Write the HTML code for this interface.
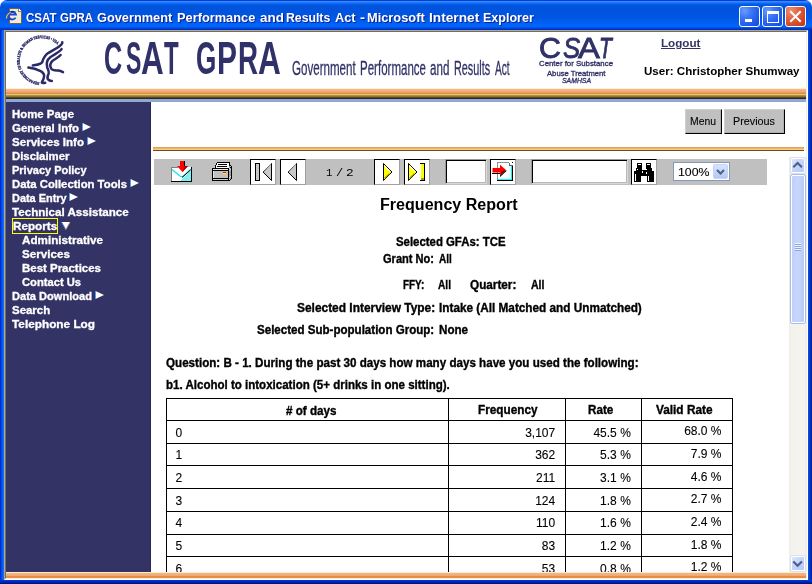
<!DOCTYPE html>
<html><head><meta charset="utf-8"><title>CSAT GPRA Government Performance and Results Act</title>
<style>
*{margin:0;padding:0;box-sizing:border-box}
html,body{width:812px;height:584px;overflow:hidden;background:#fff}
body{position:relative;font-family:"Liberation Sans",Arial,sans-serif}
#root{position:absolute;left:0;top:0;width:812px;height:584px;will-change:transform}
.a{position:absolute}
.t{position:absolute;white-space:nowrap;transform-origin:0 0;line-height:1}
svg{position:absolute;overflow:visible}
#tb{left:0;top:0;width:812px;height:30px;border-radius:7px 7px 0 0;
 background:linear-gradient(180deg,#0040d8 0px,#0040d8 1px,#3a8cff 1px,#3284fd 2px,#1470f4 3px,#0860ea 4px,#0056e0 5px,#0053dd 9px,#0055e2 17px,#005cee 21px,#0064fa 25px,#0064fa 27px,#0048dc 28px,#0036c8 29px,#0030c0 30px)}
#bl{left:0;top:30px;width:4px;height:554px;background:linear-gradient(90deg,#0028c8 0,#0028c8 1px,#0046e4 1px,#0052f0 2px,#0a66f8 3px,#1472fa 4px)}
#br{left:808px;top:30px;width:4px;height:554px;background:linear-gradient(90deg,#0054f2 0,#0046e0 1px,#0036c8 2px,#002aa8 3px,#001680 4px)}
#bb{left:0;top:580px;width:812px;height:4px;background:linear-gradient(180deg,#0036e2 0,#0030d0 1px,#0024b0 2px,#001a90 3px,#001070 4px)}
.wb{position:absolute;top:6px;width:21px;height:21px;border:1px solid #fff;border-radius:3px;
 background:radial-gradient(ellipse at 25% 20%,#6a9cff 0,#3a74f6 35%,#1c56e6 75%,#1548d8 100%)}
#wclose{background:radial-gradient(ellipse at 25% 20%,#f09070 0,#e06040 40%,#cc4020 80%,#c03818 100%)}
#client{left:4px;top:30px;width:804px;height:550px;border-top:1px solid #aca899;border-left:1px solid #aca899;border-right:1px solid #fff;border-bottom:1px solid #fff}
#client2{left:5px;top:31px;width:802px;height:548px;border-top:1px solid #716f64;border-left:1px solid #716f64;border-right:1px solid #f1efe2;border-bottom:1px solid #f1efe2}
#band{left:6px;top:88px;width:800px;height:14px;background:linear-gradient(180deg,#fff2c0 0px,#fff2c0 1px,#f0b890 1px,#f0b890 2px,#f0b088 2px,#f0b088 3px,#eea880 3px,#eea880 4px,#eb9a60 4px,#eb9a60 5px,#e88a44 5px,#e88a44 6px,#ecc860 6px,#ecc860 7px,#a89448 7px,#a89448 8px,#8a7636 8px,#8a7636 9px,#5a4820 9px,#5a4820 10px,#302810 10px,#302810 11px,#8ea8d8 11px,#8ea8d8 12px,#8ea8d8 12px,#8ea8d8 13px,#8ea8d8 13px,#8ea8d8 14px)}
#nav{left:6px;top:102px;width:145px;height:470px;background:#333366;border-right:1px solid #26265a}
#navtop{left:6px;top:101px;width:145px;height:1px;background:#8aa2cc}
#bot{left:6px;top:572px;width:800px;height:6px;background:linear-gradient(180deg,#fff0b8 0,#fff0b8 1px,#f0b48a 1px,#efb085 3px,#eca070 4px,#e88c44 4px,#e88a40 6px)}
.btn{position:absolute;background:#c0c0c0;border-top:1px solid #d0d0d0;border-left:1px solid #d0d0d0;border-right:1px solid #000;border-bottom:1px solid #000;box-shadow:inset -1px -1px 0 #b0b0b0}
#oline{left:153px;top:147px;width:651px;height:4px;background:linear-gradient(180deg,#e89c68 0,#e89c68 1px,#f0b070 1px,#f0bc70 2px,#f0d070 2px,#f0d070 3px,#6a5020 3px,#6a5020 4px)}
#tbar{left:154px;top:159px;width:613px;height:26px;background:#c0c0c0}
.tbtn{position:absolute;top:159px;width:26px;height:26px;background:#fff;border-top:1px solid #000;border-left:1px solid #000;border-right:1px solid #a0a0a0;border-bottom:1px solid #a0a0a0}
.inp{position:absolute;top:159px;height:25px;background:#fff;border-top:1px solid #9a9a9a;border-left:1px solid #9a9a9a;border-right:1px solid #d8d8d8;border-bottom:1px solid #d8d8d8;box-shadow:inset 1px 1px 0 #000,inset -1px -1px 0 #b8b8b8}
#sel{left:673px;top:162px;width:57px;height:19px;background:#fff;border:1px solid #7f9db9}
#selbtn{left:713px;top:164px;width:15px;height:15px;border-radius:2px;background:linear-gradient(180deg,#d8e4fc,#b4c8f6);border:1px solid #c4d4f8}
#sb{left:789px;top:157px;width:17px;height:415px;background:linear-gradient(90deg,#eeede5 0,#f3f2ec 2px,#f5f4ef 14px,#f0efe8 17px)}
.sbb{position:absolute;left:791px;width:14px;height:15px;border-radius:2px;border:1px solid #fff;background:linear-gradient(135deg,#dbe5fd 0,#c3d3fb 50%,#b6c9f7 100%);box-shadow:0 0 0 1px #d8e0f4}
#thumb{left:791px;top:175px;width:14px;height:148px;border-radius:2px;border:1px solid #fff;background:linear-gradient(90deg,#c0d0fa 0,#c8d6fb 50%,#bacbf8 100%);box-shadow:0 0 0 1px #a8bcec}
.hl{position:absolute;height:1px;background:#000}
.vl{position:absolute;width:1px;background:#000}
#ybox{left:12px;top:218px;width:46px;height:16px;border:1px solid #ffff00}
</style></head>
<body>
<div id="root">
<div class="a" id="tb"></div>
<div class="a" id="bl"></div>
<div class="a" id="br"></div>
<div class="a" id="bb"></div>
<div class="a" id="client"></div>
<div class="a" id="client2"></div>
<!-- IE icon -->
<svg style="left:0;top:0" width="30" height="30" viewBox="0 0 30 30" shape-rendering="crispEdges">
 <path d="M9.5 8.5h9l3 3v12h-12z" fill="#efecdc" stroke="#6f6350" stroke-width="1"/>
 <path d="M18.5 8.5v3h3" fill="#fff" stroke="#8a7c60" stroke-width="1"/>
</svg>
<svg style="left:0;top:0" width="30" height="30" viewBox="0 0 30 30">
 <path d="M15.6 17.6A3.7 3.7 0 1 1 15.9 14.6H9.2" fill="none" stroke="#1d49d8" stroke-width="1.9"/>
 <path d="M9.6 12.6A3.7 3.7 0 0 1 15.4 12.8" fill="none" stroke="#0c2a9a" stroke-width="1.2"/>
 <path d="M6.6 18.6C6.2 16.4 8.2 13.6 10.6 12.2" fill="none" stroke="#e2b24a" stroke-width="1.2"/>
 <path d="M7.2 19.2C8.4 19.8 10.2 19.2 11 18.6" fill="none" stroke="#2a3aa8" stroke-width="1.1"/>
 <path d="M14.6 12.2l1.6-1" stroke="#34c8f0" stroke-width="1"/>
</svg>
<div class="wb" style="left:739px"></div>
<div class="wb" style="left:762px"></div>
<div class="wb" id="wclose" style="left:785px"></div>
<svg style="left:739px;top:6px" width="21" height="21" shape-rendering="crispEdges"><rect x="6" y="13" width="7" height="3" fill="#fff"/></svg>
<svg style="left:762px;top:6px" width="21" height="21" shape-rendering="crispEdges"><rect x="5" y="5" width="11" height="11" fill="none" stroke="#fff" stroke-width="1" transform="translate(0.5 0.5)"/><rect x="5" y="5" width="11" height="3" fill="#fff"/></svg>
<svg style="left:785px;top:6px" width="21" height="21"><path d="M6 6L15 15M15 6L6 15" stroke="#fff" stroke-width="2" stroke-linecap="square"/></svg>

<!-- HHS logo -->
<svg style="left:0;top:32px" width="80" height="56" viewBox="0 32 80 56">
 <defs><path id="ring" d="M39.5 82.4 A22.2 22.2 0 1 1 58.2 45.2"/></defs>
 <text font-family="Liberation Serif,serif" font-size="4" font-weight="bold" fill="#2a2a66" stroke="#2a2a66" stroke-width="0.35" textLength="84" lengthAdjust="spacingAndGlyphs"><textPath href="#ring">DEPARTMENT OF HEALTH &amp; HUMAN SERVICES • USA</textPath></text>
 <g fill="none" stroke="#2a2a68" stroke-width="2.5" stroke-linecap="round" stroke-linejoin="round">
  <path d="M62.3 42.3C62.5 45.5 55 49 48.5 52.8C44.5 55.5 43.3 58.5 42.3 62C41.5 64.3 37 64.8 32.8 65.4"/>
  <path d="M61.6 49C60.2 51.8 54.5 54.2 50.3 57.2C46.7 60 46.2 63.8 47.2 67.3C48 69.8 49.2 71.2 48.7 73.4C47.8 75.5 46.6 77.5 48 79.4C49 80.6 50.5 81 51.8 81"/>
  <path d="M60.6 55C58.3 57.6 54.3 59.2 52.2 61.2C50.2 63.3 49.8 66.2 51.2 68.6C52.6 70.6 55.2 70.4 58.2 70.6C60.2 70.9 61.8 71.6 63 72.2"/>
  <path d="M28.4 67.6C32.2 68 36.7 69.2 40.7 71.2C44.2 73.2 44.6 76.2 43.6 78.6C43 80.2 42 81.5 41.8 82.6C43 83.1 44.2 83.1 45.2 82.8"/>
 </g>
</svg>

<div class="a" id="band"></div>
<div class="a" id="nav"></div>
<div class="a" id="ybox"></div>
<!-- nav arrows -->
<svg style="left:0;top:0" width="160" height="320">
 <defs>
  <g id="ra"><path d="M0.5 0L9 4L0.5 8z" fill="#fff"/><rect x="0" y="0.3" width="1" height="7.4" fill="#4a9ff2"/></g>
 </defs>
 <use href="#ra" x="82" y="123"/>
 <use href="#ra" x="87" y="137"/>
 <use href="#ra" x="130" y="179"/>
 <use href="#ra" x="69" y="193"/>
 <use href="#ra" x="95" y="291"/>
 <path d="M61.5 222H70L65.8 229.6z" fill="#fff"/>
 <path d="M61.5 222L65.8 229.6" stroke="#3a8ef0" stroke-width="1"/>
 <path d="M70 222L65.8 229.6" stroke="#f0a060" stroke-width="0.8"/>
</svg>

<div class="btn" style="left:685px;top:109px;width:37px;height:25px"></div>
<div class="btn" style="left:724px;top:109px;width:61px;height:25px"></div>
<div class="a" id="oline"></div>

<div class="a" id="tbar"></div>
<!-- export icon -->
<svg style="left:168px;top:158px" width="28" height="28" viewBox="168 158 28 28" shape-rendering="crispEdges">
 <rect x="171" y="167" width="21" height="15" fill="#fff"/>
 <path d="M181 181L191 170V181z" fill="#7ff0f0"/>
 <rect x="171" y="167" width="1" height="14" fill="#808080"/>
 <rect x="171" y="167" width="7" height="1" fill="#808080"/>
 <rect x="171" y="181" width="21" height="1" fill="#000"/>
 <rect x="191" y="167" width="1" height="15" fill="#000"/>
 <path d="M172 169.5L180.5 176.5H183L191 169" fill="none" stroke="#00e8f0" stroke-width="1.2" shape-rendering="auto"/>
 <path d="M182 177.5L190.5 170" fill="none" stroke="#000" stroke-width="1" shape-rendering="auto"/>
 <rect x="180" y="161" width="4" height="6" fill="#f00"/>
 <rect x="184" y="161" width="1" height="6" fill="#000"/>
 <path d="M177 166H188L182.5 172z" fill="#f00" shape-rendering="auto"/>
 <path d="M185 166H188L182.5 172z" fill="#a00000" shape-rendering="auto"/>
</svg>
<!-- printer -->
<svg style="left:208px;top:158px" width="28" height="28" viewBox="208 158 28 28" shape-rendering="crispEdges">
 <rect x="217" y="162" width="13" height="1" fill="#000"/>
 <rect x="216" y="163" width="1" height="2" fill="#000"/>
 <rect x="215" y="165" width="1" height="3" fill="#000"/>
 <rect x="217" y="163" width="12" height="5" fill="#fff"/>
 <rect x="216" y="165" width="1" height="3" fill="#fff"/>
 <rect x="229" y="163" width="1" height="3" fill="#000"/>
 <rect x="218" y="164" width="9" height="1" fill="#000"/>
 <rect x="217" y="166" width="10" height="1" fill="#000"/>
 <rect x="212" y="168" width="17" height="1" fill="#000"/>
 <rect x="212" y="169" width="1" height="12" fill="#000"/>
 <rect x="213" y="169" width="15" height="1" fill="#e8e8e8"/>
 <rect x="212" y="170" width="17" height="1" fill="#000"/>
 <rect x="213" y="171" width="1" height="7" fill="#e8e8e8"/>
 <rect x="214" y="171" width="14" height="7" fill="#c0c0c0"/>
 <rect x="212" y="178" width="17" height="1" fill="#000"/>
 <rect x="213" y="179" width="15" height="1" fill="#d0d0d0"/>
 <rect x="213" y="180" width="16" height="1" fill="#000"/>
 <rect x="228" y="169" width="1" height="12" fill="#000"/>
 <rect x="229" y="167" width="2" height="13" fill="#a0a0a0"/>
 <rect x="229" y="168" width="1" height="1" fill="#e0e0e0"/>
 <rect x="230" y="167" width="1" height="1" fill="#000"/>
 <rect x="229" y="170" width="1" height="1" fill="#e0e0e0"/>
 <rect x="230" y="169" width="1" height="1" fill="#e0e0e0"/>
 <rect x="229" y="177" width="1" height="1" fill="#e0e0e0"/>
 <rect x="230" y="176" width="1" height="1" fill="#e0e0e0"/>
 <rect x="229" y="179" width="1" height="1" fill="#e0e0e0"/>
 <rect x="231" y="166" width="1" height="13" fill="#000"/>
 <rect x="230" y="179" width="1" height="1" fill="#000"/>
 <rect x="229" y="180" width="1" height="1" fill="#000"/>
 <rect x="230" y="165" width="1" height="1" fill="#000"/>
 <rect x="229" y="166" width="1" height="1" fill="#a0a0a0"/>
 <rect x="223" y="172" width="3" height="1" fill="#f00"/>
 <rect x="223" y="173" width="3" height="1" fill="#ff0"/>
</svg>
<div class="tbtn" style="left:250px"></div>
<div class="tbtn" style="left:280px"></div>
<div class="tbtn" style="left:374px"></div>
<div class="tbtn" style="left:404px"></div>
<svg style="left:0;top:0" width="440" height="190" shape-rendering="crispEdges">
 <!-- first -->
 <rect x="255.5" y="163.5" width="4" height="17" fill="#c8c8c8" stroke="#000" stroke-width="1"/>
 <path d="M271.5 163.5V180.5L263 172z" fill="#c8c8c8" stroke="#000" stroke-width="1" shape-rendering="auto"/>
 <path d="M271 164L263.5 172" stroke="#909090" stroke-width="1" shape-rendering="auto"/>
 <!-- prev -->
 <path d="M296.5 163.5V180.5L288 172z" fill="#c8c8c8" stroke="#000" stroke-width="1" shape-rendering="auto"/>
 <path d="M296 164L288.5 172" stroke="#909090" stroke-width="1" shape-rendering="auto"/>
 <!-- next -->
 <path d="M383.5 163.5V180.5L392 172z" fill="#ffff00" stroke="#000" stroke-width="1" shape-rendering="auto"/>
 <path d="M384.6 165.8L390.2 171.6" stroke="#fff" stroke-width="1.1" shape-rendering="auto"/>
 <path d="M384.6 178.2L389.4 173.6" stroke="#a0a000" stroke-width="1.3" shape-rendering="auto"/>
 <!-- last -->
 <path d="M408.5 163.5V180.5L417 172z" fill="#ffff00" stroke="#000" stroke-width="1" shape-rendering="auto"/>
 <path d="M409.6 165.8L415.2 171.6" stroke="#fff" stroke-width="1.1" shape-rendering="auto"/>
 <path d="M409.6 178.2L414.4 173.6" stroke="#a0a000" stroke-width="1.3" shape-rendering="auto"/>
 <rect x="420" y="163" width="5" height="18" fill="#000"/>
 <rect x="420" y="164" width="4" height="16" fill="#ffff00"/>
 <rect x="420" y="164" width="1" height="16" fill="#fff"/>
 <rect x="421" y="178" width="3" height="2" fill="#a0a000"/>
</svg>
<div class="inp" style="left:445px;width:42px"></div>
<div class="tbtn" style="left:490px"></div>
<svg style="left:488px;top:157px" width="30" height="30" viewBox="488 157 30 30" shape-rendering="crispEdges">
 <rect x="497" y="162" width="16" height="19" fill="#000"/>
 <rect x="497" y="162" width="14" height="1" fill="#909090"/>
 <rect x="497" y="162" width="1" height="18" fill="#909090"/>
 <rect x="498" y="163" width="14" height="17" fill="#00ffff"/>
 <rect x="498" y="163" width="13" height="16" fill="#fff"/>
 <path d="M509 162h2l2 2v2h-4z" fill="#fff"/>
 <path d="M509.5 162.5v3h3.5" fill="none" stroke="#606060" stroke-width="1"/>
 <path d="M492.5 168H500V164.7L506 170L500 175.5V172.5H492.5z" fill="#f00" shape-rendering="auto"/>
 <path d="M500 175.5L506 170L506.5 171L500 177z" fill="#000" shape-rendering="auto"/>
 <path d="M492 172.5H500V173.5H492z" fill="#000"/>
 <path d="M501 172L505 170V171L501 174.5z" fill="#900000" shape-rendering="auto"/>
</svg>
<div class="inp" style="left:531px;width:97px"></div>
<div class="tbtn" style="left:631px"></div>
<svg style="left:628px;top:157px" width="32" height="30" viewBox="628 157 32 30" shape-rendering="crispEdges">
 <rect x="637" y="163" width="5" height="6" fill="#000"/>
 <rect x="646" y="163" width="5" height="6" fill="#000"/>
 <rect x="638" y="164" width="3" height="1" fill="#fff"/>
 <rect x="647" y="164" width="3" height="1" fill="#fff"/>
 <rect x="636" y="168" width="6" height="3" fill="#000"/>
 <rect x="646" y="168" width="6" height="3" fill="#000"/>
 <rect x="634" y="171" width="7" height="11" fill="#000"/>
 <rect x="647" y="171" width="7" height="11" fill="#000"/>
 <rect x="641" y="170" width="6" height="6" fill="#000"/>
 <rect x="635" y="174" width="1" height="7" fill="#fff"/>
 <rect x="648" y="176" width="1" height="5" fill="#fff"/>
 <rect x="637" y="169" width="1" height="1" fill="#fff"/>
 <rect x="646" y="169" width="1" height="1" fill="#fff"/>
 <rect x="642" y="171" width="1" height="2" fill="#fff"/>
 <rect x="646" y="172" width="1" height="2" fill="#fff"/>
</svg>
<div class="a" id="sel"></div>
<div class="a" id="selbtn"></div>
<svg style="left:713px;top:164px" width="15" height="15"><path d="M4 6L7.5 9.5L11 6" fill="none" stroke="#4d6185" stroke-width="2"/></svg>

<!-- scrollbar -->
<div class="a" id="sb"></div>
<div class="sbb" style="top:158px"></div>
<div class="a" id="thumb"></div>
<div class="sbb" style="top:556px"></div>
<svg style="left:791px;top:158px" width="14" height="15"><path d="M2.3 9.3L6.6 5L10.9 9.3" fill="none" stroke="#4d6185" stroke-width="2.1"/></svg>
<svg style="left:791px;top:556px" width="14" height="15"><path d="M2.3 5.5L6.6 9.8L10.9 5.5" fill="none" stroke="#4d6185" stroke-width="2.1"/></svg>
<svg style="left:791px;top:175px" width="14" height="148" shape-rendering="crispEdges">
 <rect x="4" y="68" width="6" height="1" fill="#eef4fe"/><rect x="4" y="69" width="6" height="1" fill="#8ca6de"/>
 <rect x="4" y="70" width="6" height="1" fill="#eef4fe"/><rect x="4" y="71" width="6" height="1" fill="#8ca6de"/>
 <rect x="4" y="72" width="6" height="1" fill="#eef4fe"/><rect x="4" y="73" width="6" height="1" fill="#8ca6de"/>
 <rect x="4" y="74" width="6" height="1" fill="#eef4fe"/><rect x="4" y="75" width="6" height="1" fill="#8ca6de"/>
</svg>

<!-- table -->
<div class="hl" style="left:166px;top:398px;width:567px"></div>
<div class="hl" style="left:166px;top:420px;width:567px"></div>
<div class="hl" style="left:166px;top:443px;width:567px"></div>
<div class="hl" style="left:166px;top:465px;width:567px"></div>
<div class="hl" style="left:166px;top:488px;width:567px"></div>
<div class="hl" style="left:166px;top:511px;width:567px"></div>
<div class="hl" style="left:166px;top:534px;width:567px"></div>
<div class="hl" style="left:166px;top:556px;width:567px"></div>
<div class="vl" style="left:166px;top:398px;height:174px"></div>
<div class="vl" style="left:448px;top:398px;height:174px"></div>
<div class="vl" style="left:565px;top:398px;height:174px"></div>
<div class="vl" style="left:641px;top:398px;height:174px"></div>
<div class="vl" style="left:732px;top:398px;height:174px"></div>

<div class="t" style="left:25.60px;top:11.00px;font:normal bold 13.5px/1 'Liberation Sans',Arial,sans-serif;color:#fff;transform:scaleX(0.8503);text-shadow:1px 1px 0 #0a1e8a;">CSAT</div>
<div class="t" style="left:60.30px;top:11.00px;font:normal bold 13.5px/1 'Liberation Sans',Arial,sans-serif;color:#fff;transform:scaleX(0.8458);text-shadow:1px 1px 0 #0a1e8a;">GPRA</div>
<div class="t" style="left:97.40px;top:11.00px;font:normal bold 13.5px/1 'Liberation Sans',Arial,sans-serif;color:#fff;transform:scaleX(0.9468);text-shadow:1px 1px 0 #0a1e8a;">Government</div>
<div class="t" style="left:176.70px;top:11.00px;font:normal bold 13.5px/1 'Liberation Sans',Arial,sans-serif;color:#fff;transform:scaleX(0.9486);text-shadow:1px 1px 0 #0a1e8a;">Performance</div>
<div class="t" style="left:259.50px;top:11.00px;font:normal bold 13.5px/1 'Liberation Sans',Arial,sans-serif;color:#fff;transform:scaleX(0.9952);text-shadow:1px 1px 0 #0a1e8a;">and</div>
<div class="t" style="left:286.40px;top:11.00px;font:normal bold 13.5px/1 'Liberation Sans',Arial,sans-serif;color:#fff;transform:scaleX(0.9061);text-shadow:1px 1px 0 #0a1e8a;">Results</div>
<div class="t" style="left:334.50px;top:11.00px;font:normal bold 13.5px/1 'Liberation Sans',Arial,sans-serif;color:#fff;transform:scaleX(0.9464);text-shadow:1px 1px 0 #0a1e8a;">Act</div>
<div class="t" style="left:359.70px;top:11.00px;font:normal bold 13.5px/1 'Liberation Sans',Arial,sans-serif;color:#fff;transform:scaleX(1.1111);text-shadow:1px 1px 0 #0a1e8a;">-</div>
<div class="t" style="left:367.40px;top:11.00px;font:normal bold 13.5px/1 'Liberation Sans',Arial,sans-serif;color:#fff;transform:scaleX(0.9498);text-shadow:1px 1px 0 #0a1e8a;">Microsoft</div>
<div class="t" style="left:429.30px;top:11.00px;font:normal bold 13.5px/1 'Liberation Sans',Arial,sans-serif;color:#fff;transform:scaleX(1.0138);text-shadow:1px 1px 0 #0a1e8a;">Internet</div>
<div class="t" style="left:483.30px;top:11.00px;font:normal bold 13.5px/1 'Liberation Sans',Arial,sans-serif;color:#fff;transform:scaleX(0.9273);text-shadow:1px 1px 0 #0a1e8a;">Explorer</div>
<div class="t" style="left:103.93px;top:34.00px;font:normal bold 47px/1 'Liberation Sans',Arial,sans-serif;color:#313169;transform:scaleX(0.5355);">C</div>
<div class="t" style="left:125.51px;top:34.00px;font:normal bold 47px/1 'Liberation Sans',Arial,sans-serif;color:#313169;transform:scaleX(0.4897);">S</div>
<div class="t" style="left:140.73px;top:34.00px;font:normal bold 47px/1 'Liberation Sans',Arial,sans-serif;color:#313169;transform:scaleX(0.6688);">A</div>
<div class="t" style="left:163.50px;top:34.00px;font:normal bold 47px/1 'Liberation Sans',Arial,sans-serif;color:#313169;transform:scaleX(0.5107);">T</div>
<div class="t" style="left:195.69px;top:34.00px;font:normal bold 47px/1 'Liberation Sans',Arial,sans-serif;color:#313169;transform:scaleX(0.5562);">G</div>
<div class="t" style="left:217.09px;top:34.00px;font:normal bold 47px/1 'Liberation Sans',Arial,sans-serif;color:#313169;transform:scaleX(0.6370);">P</div>
<div class="t" style="left:237.53px;top:34.00px;font:normal bold 47px/1 'Liberation Sans',Arial,sans-serif;color:#313169;transform:scaleX(0.5900);">R</div>
<div class="t" style="left:258.33px;top:34.00px;font:normal bold 47px/1 'Liberation Sans',Arial,sans-serif;color:#313169;transform:scaleX(0.6719);">A</div>
<div class="t" style="left:291.52px;top:58.00px;font:normal normal 20px/1 'Liberation Sans',Arial,sans-serif;color:#313169;-webkit-text-stroke:0.3px #313169;transform:scaleX(0.5789);">Government</div>
<div class="t" style="left:359.82px;top:58.00px;font:normal normal 20px/1 'Liberation Sans',Arial,sans-serif;color:#313169;-webkit-text-stroke:0.3px #313169;transform:scaleX(0.5761);">Performance</div>
<div class="t" style="left:430.42px;top:58.00px;font:normal normal 20px/1 'Liberation Sans',Arial,sans-serif;color:#313169;-webkit-text-stroke:0.3px #313169;transform:scaleX(0.5806);">and</div>
<div class="t" style="left:453.96px;top:58.00px;font:normal normal 20px/1 'Liberation Sans',Arial,sans-serif;color:#313169;-webkit-text-stroke:0.3px #313169;transform:scaleX(0.5415);">Results</div>
<div class="t" style="left:494.50px;top:58.00px;font:normal normal 20px/1 'Liberation Sans',Arial,sans-serif;color:#313169;-webkit-text-stroke:0.3px #313169;transform:scaleX(0.5069);">Act</div>
<div class="t" style="left:538.99px;top:33.00px;font:normal normal 30px/1 'Liberation Sans',Arial,sans-serif;color:#313169;-webkit-text-stroke:0.9px #313169;transform:scaleX(1.0100);">C</div>
<div class="t" style="left:563.30px;top:33.00px;font:italic normal 30px/1 'Liberation Sans',Arial,sans-serif;color:#313169;-webkit-text-stroke:0.9px #313169;transform:scaleX(0.8550);">S</div>
<div class="t" style="left:578.00px;top:33.00px;font:normal normal 30px/1 'Liberation Sans',Arial,sans-serif;color:#313169;-webkit-text-stroke:0.9px #313169;transform:scaleX(1.0900);">A</div>
<div class="t" style="left:599.20px;top:33.00px;font:italic normal 30px/1 'Liberation Sans',Arial,sans-serif;color:#313169;-webkit-text-stroke:0.9px #313169;transform:scaleX(0.7000);">T</div>
<div class="t" style="left:539.00px;top:60.00px;font:normal normal 8px/1 'Liberation Sans',Arial,sans-serif;color:#313169;transform:scaleX(0.9787);-webkit-text-stroke:0.35px #313169;">Center for Substance</div>
<div class="t" style="left:547.00px;top:70.00px;font:normal normal 8px/1 'Liberation Sans',Arial,sans-serif;color:#313169;transform:scaleX(0.9602);-webkit-text-stroke:0.35px #313169;">Abuse Treatment</div>
<div class="t" style="left:562.00px;top:78.00px;font:italic normal 6.5px/1 'Liberation Sans',Arial,sans-serif;color:#313169;transform:scaleX(1.0563);-webkit-text-stroke:0.3px #313169;">SAMHSA</div>
<div class="t" style="left:660.50px;top:39.00px;font:normal bold 10px/1 'Liberation Sans',Arial,sans-serif;color:#333366;transform:scaleX(1.1661);text-decoration:underline;">Logout</div>
<div class="t" style="left:643.50px;top:66.00px;font:normal bold 11.5px/1 'Liberation Sans',Arial,sans-serif;color:#000;transform:scaleX(1.0055);">User: Christopher Shumway</div>
<div class="t" style="left:12.00px;top:109.00px;font:normal bold 10.6px/1 'Liberation Sans',Arial,sans-serif;color:#fff;transform:scaleX(1.0762);-webkit-text-stroke:0.3px #fff;">Home Page</div>
<div class="t" style="left:12.00px;top:123.00px;font:normal bold 10.6px/1 'Liberation Sans',Arial,sans-serif;color:#fff;transform:scaleX(1.0839);-webkit-text-stroke:0.3px #fff;">General Info</div>
<div class="t" style="left:12.00px;top:137.00px;font:normal bold 10.6px/1 'Liberation Sans',Arial,sans-serif;color:#fff;transform:scaleX(1.0917);-webkit-text-stroke:0.3px #fff;">Services Info</div>
<div class="t" style="left:12.00px;top:151.00px;font:normal bold 10.6px/1 'Liberation Sans',Arial,sans-serif;color:#fff;transform:scaleX(1.0710);-webkit-text-stroke:0.3px #fff;">Disclaimer</div>
<div class="t" style="left:12.00px;top:165.00px;font:normal bold 10.6px/1 'Liberation Sans',Arial,sans-serif;color:#fff;transform:scaleX(1.0381);-webkit-text-stroke:0.3px #fff;">Privacy Policy</div>
<div class="t" style="left:12.00px;top:179.00px;font:normal bold 10.6px/1 'Liberation Sans',Arial,sans-serif;color:#fff;transform:scaleX(1.0696);-webkit-text-stroke:0.3px #fff;">Data Collection Tools</div>
<div class="t" style="left:12.00px;top:193.00px;font:normal bold 10.6px/1 'Liberation Sans',Arial,sans-serif;color:#fff;transform:scaleX(1.0324);-webkit-text-stroke:0.3px #fff;">Data Entry</div>
<div class="t" style="left:12.00px;top:207.00px;font:normal bold 10.6px/1 'Liberation Sans',Arial,sans-serif;color:#fff;transform:scaleX(1.0950);-webkit-text-stroke:0.3px #fff;">Technical Assistance</div>
<div class="t" style="left:13.00px;top:221.00px;font:normal bold 10.6px/1 'Liberation Sans',Arial,sans-serif;color:#fff;transform:scaleX(1.1041);-webkit-text-stroke:0.3px #fff;">Reports</div>
<div class="t" style="left:22.00px;top:235.00px;font:normal bold 10.6px/1 'Liberation Sans',Arial,sans-serif;color:#fff;transform:scaleX(1.1006);-webkit-text-stroke:0.3px #fff;">Administrative</div>
<div class="t" style="left:22.00px;top:249.00px;font:normal bold 10.6px/1 'Liberation Sans',Arial,sans-serif;color:#fff;transform:scaleX(1.0988);-webkit-text-stroke:0.3px #fff;">Services</div>
<div class="t" style="left:22.00px;top:263.00px;font:normal bold 10.6px/1 'Liberation Sans',Arial,sans-serif;color:#fff;transform:scaleX(1.0817);-webkit-text-stroke:0.3px #fff;">Best Practices</div>
<div class="t" style="left:22.00px;top:277.00px;font:normal bold 10.6px/1 'Liberation Sans',Arial,sans-serif;color:#fff;transform:scaleX(1.0550);-webkit-text-stroke:0.3px #fff;">Contact Us</div>
<div class="t" style="left:12.00px;top:291.00px;font:normal bold 10.6px/1 'Liberation Sans',Arial,sans-serif;color:#fff;transform:scaleX(1.0442);-webkit-text-stroke:0.3px #fff;">Data Download</div>
<div class="t" style="left:12.00px;top:305.00px;font:normal bold 10.6px/1 'Liberation Sans',Arial,sans-serif;color:#fff;transform:scaleX(1.0808);-webkit-text-stroke:0.3px #fff;">Search</div>
<div class="t" style="left:12.00px;top:319.00px;font:normal bold 10.6px/1 'Liberation Sans',Arial,sans-serif;color:#fff;transform:scaleX(1.1134);-webkit-text-stroke:0.3px #fff;">Telephone Log</div>
<div class="t" style="left:689.50px;top:116.00px;font:normal normal 11px/1 'Liberation Sans',Arial,sans-serif;color:#000;transform:scaleX(0.9444);-webkit-text-stroke:0.1px #000;">Menu</div>
<div class="t" style="left:732.50px;top:116.00px;font:normal normal 11px/1 'Liberation Sans',Arial,sans-serif;color:#000;transform:scaleX(0.9814);-webkit-text-stroke:0.1px #000;">Previous</div>
<div class="t" style="left:325.80px;top:168.00px;font:normal normal 11.8px/1 'Liberation Mono',monospace;color:#000;transform:scaleX(0.9000);">1</div>
<div class="t" style="left:335.68px;top:168.00px;font:normal normal 11.8px/1 'Liberation Mono',monospace;color:#000;transform:scaleX(1.0200);">/</div>
<div class="t" style="left:345.62px;top:168.00px;font:normal normal 11.8px/1 'Liberation Mono',monospace;color:#000;transform:scaleX(1.0800);">2</div>
<div class="t" style="left:678.00px;top:167.00px;font:normal normal 11.5px/1 'Liberation Sans',Arial,sans-serif;color:#000;transform:scaleX(1.0706);-webkit-text-stroke:0.1px #000;">100%</div>
<div class="t" style="left:379.50px;top:197.00px;font:normal bold 16px/1 'Liberation Sans',Arial,sans-serif;color:#000;transform:scaleX(1.0042);">Frequency Report</div>
<div class="t" style="left:395.50px;top:236.00px;font:normal bold 12px/1 'Liberation Sans',Arial,sans-serif;color:#000;transform:scaleX(0.9491);-webkit-text-stroke:0.35px #000;">Selected GFAs: TCE</div>
<div class="t" style="left:383.00px;top:253.00px;font:normal bold 12px/1 'Liberation Sans',Arial,sans-serif;color:#000;transform:scaleX(0.9215);-webkit-text-stroke:0.35px #000;">Grant No:</div>
<div class="t" style="left:439.00px;top:253.00px;font:normal bold 12px/1 'Liberation Sans',Arial,sans-serif;color:#000;transform:scaleX(0.8342);-webkit-text-stroke:0.35px #000;">All</div>
<div class="t" style="left:402.80px;top:279.00px;font:normal bold 12px/1 'Liberation Sans',Arial,sans-serif;color:#000;transform:scaleX(0.8262);-webkit-text-stroke:0.35px #000;">FFY:</div>
<div class="t" style="left:438.00px;top:279.00px;font:normal bold 12px/1 'Liberation Sans',Arial,sans-serif;color:#000;transform:scaleX(0.8473);-webkit-text-stroke:0.35px #000;">All</div>
<div class="t" style="left:470.00px;top:279.00px;font:normal bold 12px/1 'Liberation Sans',Arial,sans-serif;color:#000;transform:scaleX(0.9780);-webkit-text-stroke:0.35px #000;">Quarter:</div>
<div class="t" style="left:530.70px;top:279.00px;font:normal bold 12px/1 'Liberation Sans',Arial,sans-serif;color:#000;transform:scaleX(0.8798);-webkit-text-stroke:0.35px #000;">All</div>
<div class="t" style="left:296.50px;top:302.00px;font:normal bold 12px/1 'Liberation Sans',Arial,sans-serif;color:#000;transform:scaleX(0.9930);-webkit-text-stroke:0.35px #000;">Selected Interview Type:</div>
<div class="t" style="left:439.00px;top:302.00px;font:normal bold 12px/1 'Liberation Sans',Arial,sans-serif;color:#000;transform:scaleX(0.9811);-webkit-text-stroke:0.35px #000;">Intake (All Matched and Unmatched)</div>
<div class="t" style="left:257.00px;top:324.00px;font:normal bold 12px/1 'Liberation Sans',Arial,sans-serif;color:#000;transform:scaleX(0.9630);-webkit-text-stroke:0.35px #000;">Selected Sub-population Group:</div>
<div class="t" style="left:439.00px;top:324.00px;font:normal bold 12px/1 'Liberation Sans',Arial,sans-serif;color:#000;transform:scaleX(0.9667);-webkit-text-stroke:0.35px #000;">None</div>
<div class="t" style="left:166.30px;top:357.00px;font:normal bold 12px/1 'Liberation Sans',Arial,sans-serif;color:#000;transform:scaleX(0.9681);-webkit-text-stroke:0.35px #000;">Question: B - 1. During the past 30 days how many days have you used the following:</div>
<div class="t" style="left:166.30px;top:379.00px;font:normal bold 12px/1 'Liberation Sans',Arial,sans-serif;color:#000;transform:scaleX(0.9612);-webkit-text-stroke:0.35px #000;">b1. Alcohol to intoxication (5+ drinks in one sitting).</div>
<div class="t" style="left:285.50px;top:405.00px;font:normal bold 12px/1 'Liberation Sans',Arial,sans-serif;color:#000;transform:scaleX(0.9686);-webkit-text-stroke:0.35px #000;"># of days</div>
<div class="t" style="left:478.30px;top:404.00px;font:normal bold 12px/1 'Liberation Sans',Arial,sans-serif;color:#000;transform:scaleX(0.9804);-webkit-text-stroke:0.35px #000;">Frequency</div>
<div class="t" style="left:588.40px;top:404.00px;font:normal bold 12px/1 'Liberation Sans',Arial,sans-serif;color:#000;transform:scaleX(0.9725);-webkit-text-stroke:0.35px #000;">Rate</div>
<div class="t" style="left:656.20px;top:404.00px;font:normal bold 12px/1 'Liberation Sans',Arial,sans-serif;color:#000;transform:scaleX(0.9850);-webkit-text-stroke:0.35px #000;">Valid Rate</div>
<div class="t" style="left:175.50px;top:427.00px;font:normal normal 12px/1 'Liberation Sans',Arial,sans-serif;color:#000;-webkit-text-stroke:0.1px #000;">0</div>
<div class="t" style="left:525.17px;top:427.00px;font:normal normal 12px/1 'Liberation Sans',Arial,sans-serif;color:#000;-webkit-text-stroke:0.1px #000;">3,107</div>
<div class="t" style="left:593.44px;top:427.00px;font:normal normal 12px/1 'Liberation Sans',Arial,sans-serif;color:#000;-webkit-text-stroke:0.1px #000;">45.5 %</div>
<div class="t" style="left:684.14px;top:425.00px;font:normal normal 12px/1 'Liberation Sans',Arial,sans-serif;color:#000;-webkit-text-stroke:0.1px #000;">68.0 %</div>
<div class="t" style="left:175.50px;top:449.00px;font:normal normal 12px/1 'Liberation Sans',Arial,sans-serif;color:#000;-webkit-text-stroke:0.1px #000;">1</div>
<div class="t" style="left:535.17px;top:449.00px;font:normal normal 12px/1 'Liberation Sans',Arial,sans-serif;color:#000;-webkit-text-stroke:0.1px #000;">362</div>
<div class="t" style="left:600.11px;top:449.00px;font:normal normal 12px/1 'Liberation Sans',Arial,sans-serif;color:#000;-webkit-text-stroke:0.1px #000;">5.3 %</div>
<div class="t" style="left:690.81px;top:448.00px;font:normal normal 12px/1 'Liberation Sans',Arial,sans-serif;color:#000;-webkit-text-stroke:0.1px #000;">7.9 %</div>
<div class="t" style="left:175.50px;top:472.00px;font:normal normal 12px/1 'Liberation Sans',Arial,sans-serif;color:#000;-webkit-text-stroke:0.1px #000;">2</div>
<div class="t" style="left:536.06px;top:472.00px;font:normal normal 12px/1 'Liberation Sans',Arial,sans-serif;color:#000;-webkit-text-stroke:0.1px #000;">211</div>
<div class="t" style="left:600.11px;top:472.00px;font:normal normal 12px/1 'Liberation Sans',Arial,sans-serif;color:#000;-webkit-text-stroke:0.1px #000;">3.1 %</div>
<div class="t" style="left:690.81px;top:471.00px;font:normal normal 12px/1 'Liberation Sans',Arial,sans-serif;color:#000;-webkit-text-stroke:0.1px #000;">4.6 %</div>
<div class="t" style="left:175.50px;top:495.00px;font:normal normal 12px/1 'Liberation Sans',Arial,sans-serif;color:#000;-webkit-text-stroke:0.1px #000;">3</div>
<div class="t" style="left:535.17px;top:495.00px;font:normal normal 12px/1 'Liberation Sans',Arial,sans-serif;color:#000;-webkit-text-stroke:0.1px #000;">124</div>
<div class="t" style="left:600.11px;top:495.00px;font:normal normal 12px/1 'Liberation Sans',Arial,sans-serif;color:#000;-webkit-text-stroke:0.1px #000;">1.8 %</div>
<div class="t" style="left:690.81px;top:493.00px;font:normal normal 12px/1 'Liberation Sans',Arial,sans-serif;color:#000;-webkit-text-stroke:0.1px #000;">2.7 %</div>
<div class="t" style="left:175.50px;top:517.00px;font:normal normal 12px/1 'Liberation Sans',Arial,sans-serif;color:#000;-webkit-text-stroke:0.1px #000;">4</div>
<div class="t" style="left:536.06px;top:517.00px;font:normal normal 12px/1 'Liberation Sans',Arial,sans-serif;color:#000;-webkit-text-stroke:0.1px #000;">110</div>
<div class="t" style="left:600.11px;top:517.00px;font:normal normal 12px/1 'Liberation Sans',Arial,sans-serif;color:#000;-webkit-text-stroke:0.1px #000;">1.6 %</div>
<div class="t" style="left:690.81px;top:516.00px;font:normal normal 12px/1 'Liberation Sans',Arial,sans-serif;color:#000;-webkit-text-stroke:0.1px #000;">2.4 %</div>
<div class="t" style="left:175.50px;top:540.00px;font:normal normal 12px/1 'Liberation Sans',Arial,sans-serif;color:#000;-webkit-text-stroke:0.1px #000;">5</div>
<div class="t" style="left:541.84px;top:540.00px;font:normal normal 12px/1 'Liberation Sans',Arial,sans-serif;color:#000;-webkit-text-stroke:0.1px #000;">83</div>
<div class="t" style="left:600.11px;top:540.00px;font:normal normal 12px/1 'Liberation Sans',Arial,sans-serif;color:#000;-webkit-text-stroke:0.1px #000;">1.2 %</div>
<div class="t" style="left:690.81px;top:539.00px;font:normal normal 12px/1 'Liberation Sans',Arial,sans-serif;color:#000;-webkit-text-stroke:0.1px #000;">1.8 %</div>
<div class="t" style="left:175.50px;top:563.00px;font:normal normal 12px/1 'Liberation Sans',Arial,sans-serif;color:#000;-webkit-text-stroke:0.1px #000;">6</div>
<div class="t" style="left:541.84px;top:563.00px;font:normal normal 12px/1 'Liberation Sans',Arial,sans-serif;color:#000;-webkit-text-stroke:0.1px #000;">53</div>
<div class="t" style="left:600.11px;top:563.00px;font:normal normal 12px/1 'Liberation Sans',Arial,sans-serif;color:#000;-webkit-text-stroke:0.1px #000;">0.8 %</div>
<div class="t" style="left:690.81px;top:561.00px;font:normal normal 12px/1 'Liberation Sans',Arial,sans-serif;color:#000;-webkit-text-stroke:0.1px #000;">1.2 %</div>

<div class="a" id="bot"></div>
</div>
</body></html>
